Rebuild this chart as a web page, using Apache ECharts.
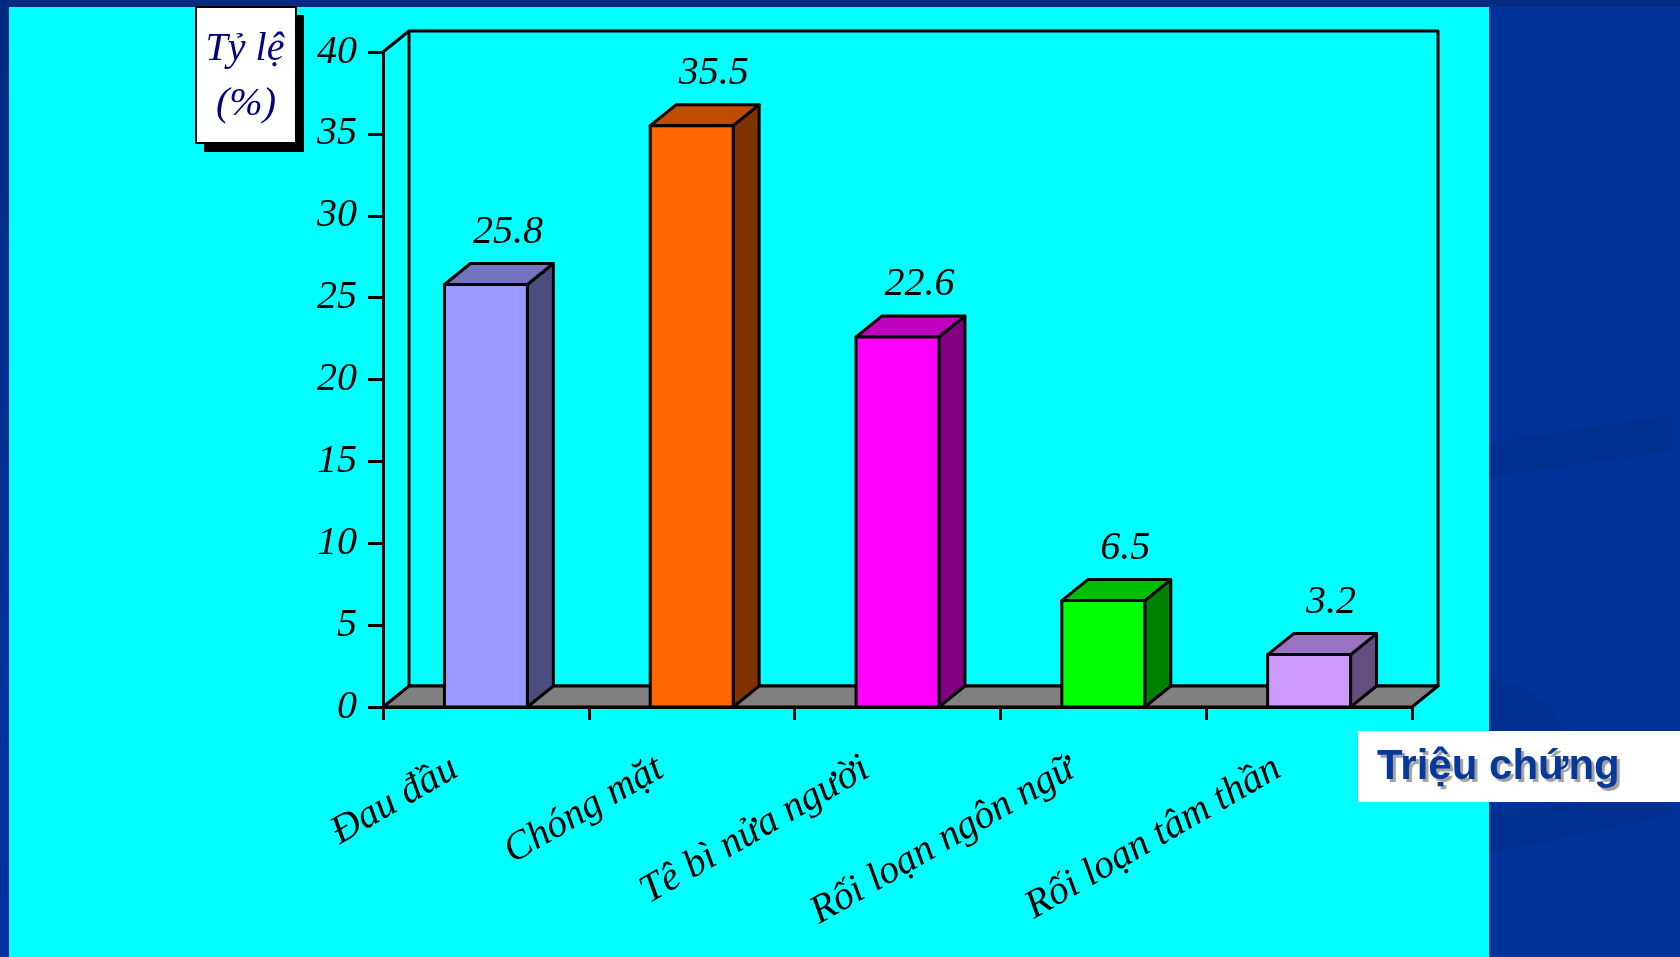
<!DOCTYPE html>
<html>
<head>
<meta charset="utf-8">
<script src="https://cdn.jsdelivr.net/npm/echarts@6/dist/echarts.min.js"></script>
<style>
  html, body { margin: 0; padding: 0; background: #003399; overflow: hidden; }
  #chart { width: 1680px; height: 957px; }
</style>
</head>
<body>
<div id="chart"></div>
<script>
// Symptom frequency (%)
const categories = ['Đau đầu', 'Chóng mặt', 'Tê bì nửa người', 'Rối loạn ngôn ngữ', 'Rối loạn tâm thần'];
const values = [25.8, 35.5, 22.6, 6.5, 3.2];

// Value axis range
const yMin = 0;
const yMax = 40;
const yStep = 5;

// Titles
const yTitleLines = ['Tỷ lệ', '(%)'];
const xTitle = 'Triệu chứng';

// Front-face colour of each bar; top and side faces are darker shades of it
const faceColors = ['#9999FF', '#FF6600', '#FF00FF', '#00FF00', '#CC99FF'];

// Pseudo-3D depth offset (pixels)
const DX = 26, DY = -21;
const SERIF = '"Liberation Serif", "Times New Roman", serif';
const SANS = '"Liberation Sans", Arial, sans-serif';

function shade(hex, f) {
  const n = parseInt(hex.slice(1), 16);
  const r = Math.round(((n >> 16) & 255) * f);
  const g = Math.round(((n >> 8) & 255) * f);
  const b = Math.round((n & 255) * f);
  return 'rgb(' + r + ',' + g + ',' + b + ')';
}

const edge = { stroke: '#000', lineWidth: 3, lineJoin: 'round' };

// Back wall, floor and left edge of the 3D box
function renderFrame(params, api) {
  const bw = api.size([1, 0])[0];
  const p0 = api.coord([0, yMin]);
  const pN = api.coord([categories.length - 1, yMax]);
  const xl = p0[0] - bw / 2, xr = pN[0] + bw / 2;
  const yb = p0[1], yt = pN[1];
  return {
    type: 'group',
    children: [
      { type: 'rect', shape: { x: xl + DX, y: yt + DY, width: xr - xl, height: yb - yt },
        style: Object.assign({ fill: null }, edge) },
      { type: 'polygon', shape: { points: [[xl, yb], [xr, yb], [xr + DX, yb + DY], [xl + DX, yb + DY]] },
        style: Object.assign({ fill: '#808080' }, edge) },
      { type: 'line', shape: { x1: xl, y1: yt, x2: xl + DX, y2: yt + DY }, style: edge }
    ]
  };
}

// One 3D column: side, top, front faces and its value label
function renderBar(params, api) {
  const i = api.value(0);
  const v = api.value(1);
  const base = api.coord([i, yMin]);
  const top = api.coord([i, v]);
  const w = api.size([1, 0])[0] * 0.403;
  const x0 = base[0] - w / 2, x1 = base[0] + w / 2;
  const yb = base[1], yt = top[1];
  const front = faceColors[i];
  return {
    type: 'group',
    children: [
      { type: 'polygon', shape: { points: [[x1, yb], [x1 + DX, yb + DY], [x1 + DX, yt + DY], [x1, yt]] },
        style: Object.assign({ fill: shade(front, 0.5) }, edge) },
      { type: 'polygon', shape: { points: [[x0, yt], [x1, yt], [x1 + DX, yt + DY], [x0 + DX, yt + DY]] },
        style: Object.assign({ fill: shade(front, 0.75) }, edge) },
      { type: 'rect', shape: { x: x0, y: yt, width: w, height: yb - yt },
        style: Object.assign({ fill: front }, edge) },
      { type: 'text', x: base[0] + 22, y: yt - 52,
        style: { text: String(v), fontFamily: SERIF, fontStyle: 'italic', fontSize: 40,
                 fill: '#000', align: 'center', verticalAlign: 'middle' } }
    ]
  };
}

const chart = echarts.init(document.getElementById('chart'), null, { renderer: 'canvas' });

const option = {
  animation: false,
  backgroundColor: 'transparent',
  grid: { left: 383, top: 52, width: 1029, height: 655, containLabel: false, outerBoundsMode: 'none' },
  xAxis: {
    type: 'category',
    data: categories,
    boundaryGap: true,
    z: 5,
    axisLine: { show: true, lineStyle: { color: '#000', width: 3 } },
    axisTick: { show: true, length: 13, interval: 0, alignWithLabel: false, lineStyle: { color: '#000', width: 3 } },
    axisLabel: {
      interval: 0, rotate: 30, margin: 41, padding: [0, 36, 0, 0],
      color: '#000', fontFamily: SERIF, fontStyle: 'italic', fontSize: 40
    },
    splitLine: { show: false }
  },
  yAxis: {
    type: 'value',
    min: yMin, max: yMax, interval: yStep,
    z: 5,
    axisLine: { show: true, lineStyle: { color: '#000', width: 3 } },
    axisTick: { show: true, length: 15, lineStyle: { color: '#000', width: 3 } },
    axisLabel: { margin: 26, color: '#000', fontFamily: SERIF, fontStyle: 'italic', fontSize: 40 },
    splitLine: { show: false }
  },
  graphic: [
    // slide backdrop
    { type: 'rect', z: -20, shape: { x: 0, y: 0, width: 1680, height: 957 }, style: { fill: '#003399' } },
    { type: 'rect', z: -19, shape: { x: 0, y: 0, width: 1680, height: 7 }, style: { fill: '#012a80' } },
    { type: 'rect', z: -19, shape: { x: 0, y: 7, width: 9, height: 950 },
      style: { fill: new echarts.graphic.LinearGradient(0, 0, 0, 1, [{ offset: 0, color: '#022a82' }, { offset: 1, color: '#0033a0' }]) } },
    { type: 'polygon', z: -19, shape: { points: [[1489, 443], [1673, 415], [1673, 450], [1489, 477]] }, style: { fill: '#00308f' } },
    { type: 'polygon', z: -19, shape: { points: [[1489, 678], [1525, 690], [1550, 708], [1565, 731], [1489, 731]] }, style: { fill: '#00308f' } },
    { type: 'polygon', z: -19, shape: { points: [[1489, 813], [1673, 790], [1673, 815], [1489, 853]] }, style: { fill: '#00308f' } },
    // chart panel
    { type: 'rect', z: -18, shape: { x: 9, y: 7, width: 1480, height: 950 }, style: { fill: '#00FFFF' } },
    // value-axis title box with drop shadow
    { type: 'rect', z: 100, shape: { x: 204, y: 15, width: 100, height: 137 }, style: { fill: '#000' } },
    { type: 'rect', z: 101, shape: { x: 196, y: 7, width: 100, height: 136 }, style: { fill: '#fff', stroke: '#000', lineWidth: 2 } },
    { type: 'text', z: 102, x: 245, y: 49,
      style: { text: yTitleLines[0], fontFamily: SERIF, fontStyle: 'italic', fontSize: 40, fill: '#000080', align: 'center', verticalAlign: 'middle' } },
    { type: 'text', z: 102, x: 246, y: 104,
      style: { text: yTitleLines[1], fontFamily: SERIF, fontStyle: 'italic', fontSize: 40, fill: '#000080', align: 'center', verticalAlign: 'middle' } },
    // category-axis title box
    { type: 'rect', z: 100, shape: { x: 1358, y: 731, width: 322, height: 71 }, style: { fill: '#fff' } },
    { type: 'text', z: 101, x: 1377, y: 767,
      style: { text: xTitle, fontFamily: SANS, fontWeight: 'bold', fontSize: 42, fill: '#06399a',
               align: 'left', verticalAlign: 'middle',
               textShadowColor: 'rgba(120,120,120,0.7)', textShadowOffsetX: 3, textShadowOffsetY: 3, textShadowBlur: 1 } }
  ],
  series: [
    {
      type: 'custom',
      name: 'frame',
      z: 1,
      silent: true,
      renderItem: renderFrame,
      data: [[0, yMin]],
      encode: { x: 0, y: 1 }
    },
    {
      type: 'custom',
      name: 'Tỷ lệ',
      z: 3,
      renderItem: renderBar,
      data: values.map((v, i) => [i, v]),
      encode: { x: 0, y: 1 }
    }
  ]
};

chart.setOption(option);
</script>
</body>
</html>
